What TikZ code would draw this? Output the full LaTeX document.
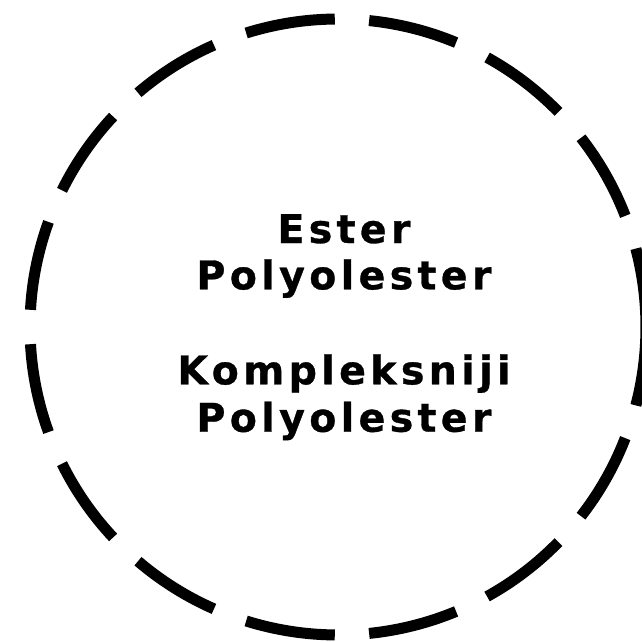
\documentclass[tikz,border=0pt]{standalone}
\usepackage{fontspec}
\newfontfamily\lblfont[LetterSpace=11,BoldFeatures={FakeBold=0.8}]{DejaVu Sans}
\begin{document}
\begin{tikzpicture}[x=1pt,y=1pt,
  ring/.style={line width=11pt, black},
  lbl/.style={font=\lblfont\bfseries\fontsize{39.5}{47}\selectfont, inner sep=0pt, anchor=base}]
\useasboundingbox (0,0) rectangle (642,641);
\clip (0,0) rectangle (642,641);
\coordinate (c) at (338,314);
\draw[ring] ([shift={(-14.75:308)}]c) arc[start angle=-14.75, delta angle=29.5, radius=308];
\foreach \k in {0,...,13}{
  \pgfmathsetmacro\sa{21.15+23.15*\k}
  \draw[ring] ([shift={(\sa:308)}]c) arc[start angle=\sa, delta angle=16.75, radius=308];
}
\node[lbl] (t1) at (344,398) {Ester};
\node[lbl] (t2) at (344,351.7) {Polyolester};
\node[lbl] (t3) at (344,256.7) {Kompleksniji};
\node[lbl] (t4) at (344,209.3) {Polyolester};
\end{tikzpicture}
\end{document}
